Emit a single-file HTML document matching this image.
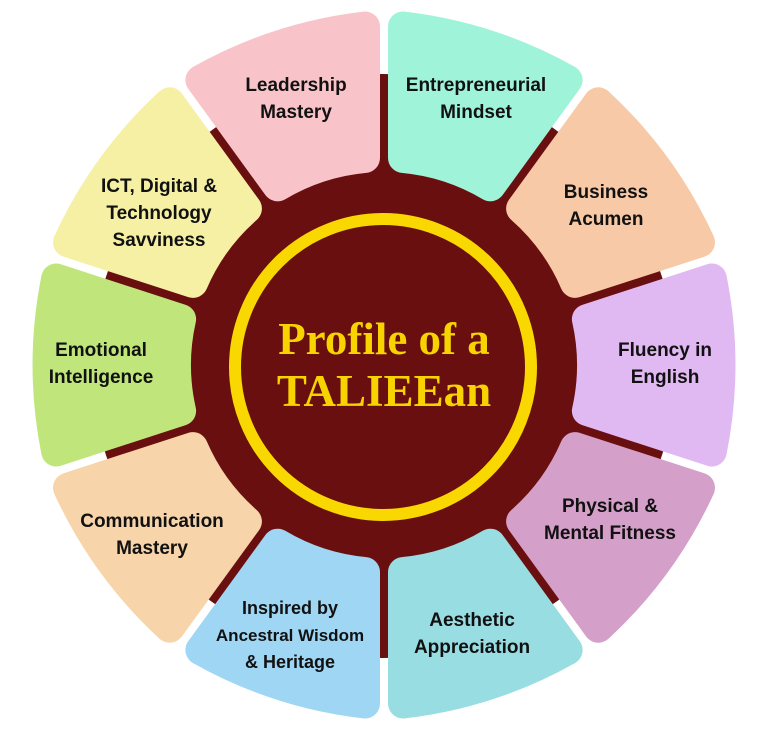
<!DOCTYPE html>
<html><head><meta charset="utf-8"><style>
html,body{margin:0;padding:0;background:#fff;width:779px;height:739px;overflow:hidden}
svg{display:block}
.t{font-family:"Liberation Sans",sans-serif;font-weight:bold;font-size:19px;fill:#111;text-anchor:middle}
.c{font-family:"Liberation Serif",serif;font-weight:bold;font-size:45px;fill:#f7d300;text-anchor:middle}
</style></head><body>
<svg id="s" width="779" height="739" viewBox="0 0 779 739">
<circle cx="384" cy="366" r="292" fill="#6a0f0f"/>
<g id="segs"></g>
<circle cx="383" cy="367" r="148" fill="none" stroke="#f8d800" stroke-width="12"/>
<text class="c" x="384" y="354">Profile of a</text>
<text class="c" x="384" y="406">TALIEEan</text>
<text class="t" x="296" y="91">Leadership</text><text class="t" x="296" y="118">Mastery</text>
<text class="t" x="476" y="91">Entrepreneurial</text><text class="t" x="476" y="118">Mindset</text>
<text class="t" x="606" y="198">Business</text><text class="t" x="606" y="225">Acumen</text>
<text class="t" x="665" y="356">Fluency in</text><text class="t" x="665" y="383">English</text>
<text class="t" x="610" y="512">Physical &amp;</text><text class="t" x="610" y="539">Mental Fitness</text>
<text class="t" x="472" y="626">Aesthetic</text><text class="t" x="472" y="653">Appreciation</text>
<text class="t" x="290" y="614" style="font-size:18px">Inspired by</text><text class="t" x="290" y="641" style="font-size:17px">Ancestral Wisdom</text><text class="t" x="290" y="668" style="font-size:18px">&amp; Heritage</text>
<text class="t" x="152" y="527">Communication</text><text class="t" x="152" y="554">Mastery</text>
<text class="t" x="101" y="356">Emotional</text><text class="t" x="101" y="383">Intelligence</text>
<text class="t" x="159" y="192">ICT, Digital &amp;</text><text class="t" x="159" y="219">Technology</text><text class="t" x="159" y="246">Savviness</text>
</svg>
<script>
var cx=384,cy=365,ro=339,ri=208,d=19,R=440;
var cols=["#e0b8f2","#d49fc9","#98dde2","#9fd6f4","#f7d4a9","#bfe57b","#f5f0a4","#f9c4c9","#9ff3d8","#f8c9a6"];
var g=document.getElementById("segs"),h="";
function p(r,a){return (cx+r*Math.cos(a)).toFixed(1)+","+(cy+r*Math.sin(a)).toFixed(1);}
for(var i=0;i<10;i++){
 var m=i*36*Math.PI/180,a1=m-18*Math.PI/180,a2=m+18*Math.PI/180;
 var o1=a1+Math.asin(d/ro),o2=a2-Math.asin(d/ro),n1=a1+Math.asin(d/ri),n2=a2-Math.asin(d/ri);
 var path="M"+p(ro,o1)+" A"+R+","+R+" 0 0 1 "+p(ro,o2)+" L"+p(ri,n2)+" A"+ri+","+ri+" 0 0 0 "+p(ri,n1)+" Z";
 h+='<path d="'+path+'" fill="'+cols[i]+'" stroke="'+cols[i]+'" stroke-width="30" stroke-linejoin="round"/>';
}
g.innerHTML=h;
</script>
</body></html>
